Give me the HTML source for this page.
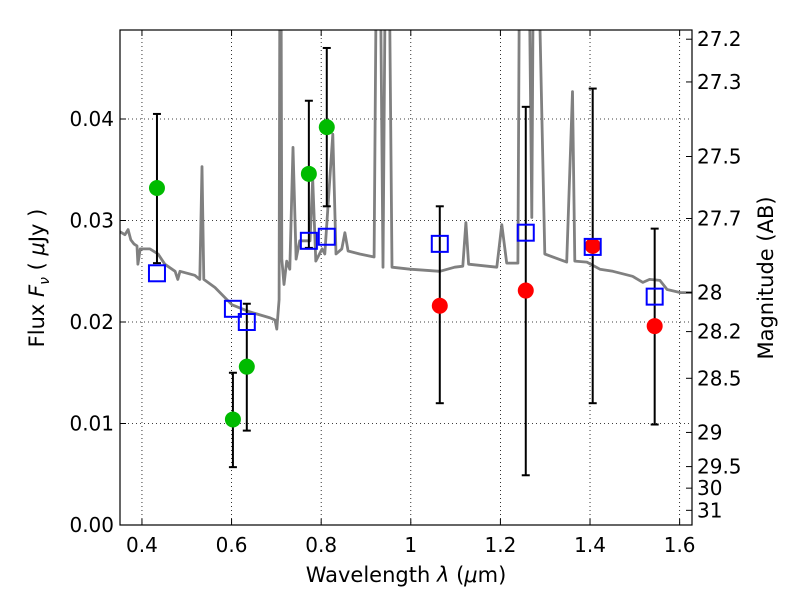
<!DOCTYPE html>
<html><head><meta charset="utf-8"><style>
body{margin:0;background:#fff}
svg text{font-family:"DejaVu Sans","Liberation Sans",sans-serif;fill:#000}
</style></head><body>
<svg id="chart" width="800" height="600" xmlns="http://www.w3.org/2000/svg">
<rect width="800" height="600" fill="#fff"/>
<defs><clipPath id="clip"><rect x="120" y="30" width="572" height="495"/></clipPath></defs>
<g id="grid"></g>
<g id="spec" clip-path="url(#clip)"></g>
<g id="marks" clip-path="url(#clip)"></g>
<g id="axes"></g>
<text x="406" y="582" font-size="21" text-anchor="middle">Wavelength  <tspan font-style="italic">λ</tspan> (<tspan font-style="italic">μ</tspan>m)</text>
<text transform="translate(44,278) rotate(-90)" font-size="21" text-anchor="middle">Flux  <tspan font-style="italic">F</tspan><tspan font-style="italic" font-size="14" dy="5">ν</tspan><tspan dy="-5">  (  <tspan font-style="italic">μ</tspan>Jy )</tspan></text>
<text transform="translate(773,278) rotate(-90)" font-size="21" text-anchor="middle">Magnitude (AB)</text>
</svg>
<script>
const xTicks=[0.4,0.6,0.8,1.0,1.2,1.4,1.6];
const xTickLabels=["0.4","0.6","0.8","1","1.2","1.4","1.6"];
const yTicks=[0,0.01,0.02,0.03,0.04];
const yTickLabels=["0.00","0.01","0.02","0.03","0.04"];
const magTicks=[27.2,27.3,27.5,27.7,28,28.2,28.5,29,29.5,30,31];
const specLam=[0.351,0.362,0.369,0.375,0.382,0.389,0.391,0.396,0.418,0.436,0.451,0.474,0.480,0.485,0.518,0.529,0.534,0.538,0.563,0.601,0.641,0.686,0.697,0.701,0.706,0.708,0.710,0.712,0.717,0.723,0.730,0.737,0.744,0.752,0.775,0.781,0.788,0.802,0.808,0.826,0.833,0.846,0.853,0.860,0.886,0.918,0.924,0.931,0.938,0.944,0.951,0.958,0.998,1.065,1.098,1.116,1.123,1.129,1.192,1.203,1.214,1.239,1.243,1.257,1.263,1.270,1.274,1.283,1.299,1.348,1.361,1.366,1.393,1.422,1.451,1.495,1.518,1.533,1.556,1.572,1.602,1.629];
const specFlux=[0.0289,0.0286,0.0291,0.0281,0.0277,0.0275,0.0257,0.0272,0.0272,0.0267,0.0257,0.0250,0.0242,0.0250,0.0246,0.0242,0.0353,0.0242,0.0234,0.0217,0.0210,0.0204,0.0202,0.0193,0.0222,0.06,0.06,0.0262,0.0237,0.0260,0.0252,0.0372,0.0262,0.0280,0.0280,0.0341,0.0260,0.0272,0.0267,0.0385,0.0267,0.0272,0.0288,0.0270,0.0267,0.0264,0.06,0.06,0.0254,0.06,0.06,0.0254,0.0252,0.0250,0.0254,0.0255,0.0298,0.0257,0.0254,0.0296,0.0258,0.0258,0.06,0.06,0.06,0.0303,0.06,0.06,0.0267,0.0259,0.0427,0.0260,0.0259,0.0252,0.0250,0.0245,0.0239,0.0242,0.0241,0.0232,0.0229,0.0229];
const bandLam=[0.4335,0.603,0.634,0.7725,0.8125,1.0647,1.2566,1.406,1.5443];
const obsFlux=[0.0332,0.0104,0.0156,0.0346,0.0392,0.0216,0.0231,0.0275,0.0196];
const obsHi=[0.0405,0.0150,0.0218,0.0418,0.0470,0.0314,0.0412,0.0430,0.0292];
const obsLo=[0.0258,0.0057,0.0093,0.0273,0.0314,0.0120,0.0049,0.0120,0.0099];
const obsColor=["#00bb00","#00bb00","#00bb00","#00bb00","#00bb00","#ff0000","#ff0000","#ff0000","#ff0000"];
const modelFlux=[0.0248,0.0213,0.0200,0.0280,0.0284,0.0277,0.0288,0.0274,0.0225];

const X0=120,X1=692,Y0=30,Y1=525;
const xmin=0.351,xmax=1.6276,ymin=0,ymax=0.04877;
const sx=v=>X0+(v-xmin)/(xmax-xmin)*(X1-X0);
const sy=v=>Y1-(v-ymin)/(ymax-ymin)*(Y1-Y0);
const NS="http://www.w3.org/2000/svg";
function mk(tag,attrs,parent){const e=document.createElementNS(NS,tag);for(const k in attrs)e.setAttribute(k,attrs[k]);parent.appendChild(e);return e;}
const grid=document.getElementById('grid'),spec=document.getElementById('spec'),marks=document.getElementById('marks'),axes=document.getElementById('axes');

xTicks.forEach((t,i)=>{
  const x=sx(t);
  const g=mk('line',{x1:x,x2:x,y1:Y0,y2:Y1,stroke:'#000','stroke-width':0.8,'stroke-dasharray':'1,3'},grid);
  
  
  mk('line',{x1:x,x2:x,y1:Y1,y2:Y1-6,stroke:'#000'},axes);
  mk('line',{x1:x,x2:x,y1:Y0,y2:Y0+6,stroke:'#000'},axes);
  const tx=mk('text',{x:x,y:Y1+27,'font-size':20,'text-anchor':'middle'},axes);
  tx.textContent=xTickLabels[i];
  
  
});
yTicks.forEach((t,i)=>{
  const y=sy(t);
  const g=mk('line',{x1:X0,x2:X1,y1:y,y2:y,stroke:'#000','stroke-width':0.8,'stroke-dasharray':'1,3'},grid);
  
  
  mk('line',{x1:X0,x2:X0+6,y1:y,y2:y,stroke:'#000'},axes);
  const tx=mk('text',{x:X0-6,y:y+7,'font-size':20,'text-anchor':'end'},axes);
  tx.textContent=yTickLabels[i];
  
  
});
magTicks.forEach(m=>{
  const f=Math.pow(10,(23.9-m)/2.5);
  const y=sy(f);
  mk('line',{x1:X1,x2:X1-6,y1:y,y2:y,stroke:'#000'},axes);
  const tx=mk('text',{x:X1+5,y:y+7,'font-size':20},axes);
  tx.textContent=String(m);
  
  
});

let d='';
specLam.forEach((l,i)=>{d+=(i?'L':'M')+sx(l).toFixed(1)+','+sy(specFlux[i]).toFixed(1);});
const sp=mk('path',{d:d,fill:'none',stroke:'#808080','stroke-width':2.8,'stroke-linejoin':'round'},spec);



bandLam.forEach((l,i)=>{
  const x=sx(l);
  const eb=mk('g',{},marks);
  
  
  mk('line',{x1:x,x2:x,y1:sy(obsHi[i]),y2:sy(obsLo[i]),stroke:'#000','stroke-width':2},eb);
  mk('line',{x1:x-4,x2:x+4,y1:sy(obsHi[i]),y2:sy(obsHi[i]),stroke:'#000','stroke-width':2},eb);
  mk('line',{x1:x-4,x2:x+4,y1:sy(obsLo[i]),y2:sy(obsLo[i]),stroke:'#000','stroke-width':2},eb);
});
bandLam.forEach((l,i)=>{
  const x=sx(l);
  const c=mk('circle',{cx:x,cy:sy(obsFlux[i]),r:8,fill:obsColor[i]},marks);
  
  
  const s=mk('rect',{x:x-8,y:sy(modelFlux[i])-8,width:16,height:16,fill:'none',stroke:'#0000ff','stroke-width':2},marks);
  
  
});
const fr=mk('rect',{x:X0,y:Y0,width:X1-X0,height:Y1-Y0,fill:'none',stroke:'#000','stroke-width':1.2},axes);


</script>
</body></html>
